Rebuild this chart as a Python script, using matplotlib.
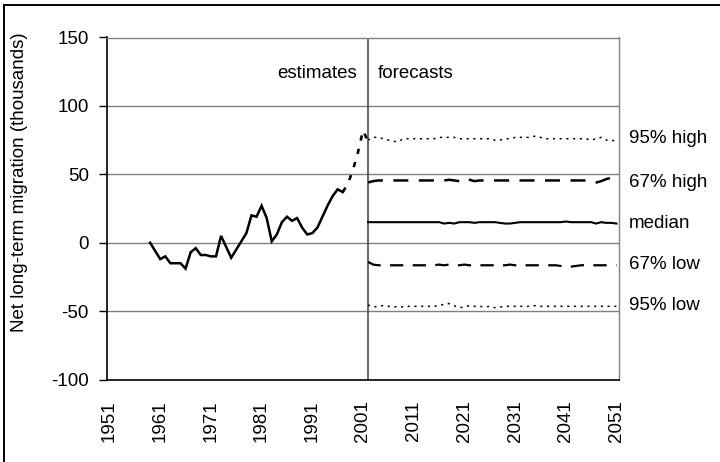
import matplotlib
matplotlib.use("Agg")
import matplotlib.pyplot as plt
from matplotlib.lines import Line2D
import matplotlib.transforms as mtransforms

plt.rcParams['font.family'] = ['Liberation Sans', 'DejaVu Sans']

# ---------------- data ----------------
est_years = list(range(1959, 1998))
est_values = [0, -6, -12, -10, -15, -15, -15, -19, -7, -4, -9, -9, -10, -10,
              5, -3, -11, -5, 1, 7, 20, 19, 27, 18, 1, 6, 15, 19, 16, 18,
              11, 6, 7, 11, 19, 27, 34, 39, 37]

prov_years = [1997, 1998, 1999, 2000, 2001, 2002]
prov_values = [37, 43, 53, 66, 82, 74]

fc_years = list(range(2002, 2052))
hi95 = [75, 77, 77, 76, 75, 74, 74, 76, 76, 76, 76, 76, 76, 76, 77, 77, 77, 77,
        76, 76, 76, 76, 76, 76, 76, 75, 75, 76, 76, 77, 77, 77, 77, 78, 77, 76,
        76, 76, 76, 76, 76, 76, 76, 76, 75, 76, 77, 75, 75, 74]
hi67 = [44, 45, 45.5, 45.5, 45.5, 45.5, 45.5, 45.5, 45.5, 45.5, 45.5, 45.5,
        45.5, 45.5, 45.5, 45.5, 46, 45.5, 45, 47, 46, 45, 45.5, 45.5, 45.5,
        45.5, 45.5, 45.5, 45.5, 46, 45.5, 45.5, 45.5, 45.5, 45.5, 45.5, 45.5,
        45.5, 45.5, 45.5, 45.5, 45.5, 45.5, 45.5, 44, 44, 45, 46.5, 47.5, 48]
median = [15, 15, 15, 15, 15, 15, 15, 15, 15, 15, 15, 15, 15, 15, 15, 14, 14.5,
          14, 15, 15, 15, 14.5, 15, 15, 15, 15, 14.5, 14, 14, 14.5, 15, 15, 15,
          15, 15, 15, 15, 15, 15, 15.5, 15, 15, 15, 15, 15, 14, 15, 14.5, 14.5, 14]
lo67 = [-14, -16, -16.5, -16.5, -16.5, -16.5, -16.5, -16.5, -16.5, -16.5,
        -16.5, -16.5, -16.5, -16.5, -16, -16.5, -16, -16.5, -16.5, -16, -16.5,
        -16.5, -16.5, -16.5, -16.5, -16.5, -16.5, -16.5, -16, -16.5, -16, -16.5,
        -16.5, -16.5, -16.5, -16.5, -16.5, -16.5, -17, -17.5, -17.5, -17,
        -16.5, -16.5, -16.5, -16.5, -16.5, -16.5, -16.5, -16.5]
lo95 = [-45.5, -47, -46.5, -46, -46.5, -47, -46.5, -47, -46.5, -46.5, -46.5,
        -46.5, -46.5, -46.5, -46, -45, -44.5, -46, -47.5, -47, -46, -46.5,
        -46.5, -47, -46.5, -47.5, -47, -46.5, -46.5, -46.5, -46.5, -46.5, -46.5,
        -46, -46.5, -46.5, -46.5, -46.5, -46.5, -46.5, -46.5, -46.5, -46.5,
        -46.5, -46.5, -46.5, -46.5, -46.5, -46.5, -46.5]

band_labels = ["95% high", "67% high", "median", "67% low", "95% low"]
band_label_y = [76, 44, 14, -16, -46]

xtick_years = list(range(1951, 2052, 10))
yticks = [-100, -50, 0, 50, 100, 150]
split_year = 2002

FS = 13.5

# ---------------- figure ----------------
fig = plt.figure(figsize=(7.2, 4.62), dpi=100)
ax = fig.add_axes([107/720, 1 - 379.5/462, 512/720, 342/462])

ax.set_xlim(1950.5, 2051.5)
ax.set_ylim(-100, 150)

for y in yticks[1:-1]:
    ax.axhline(y, color='#808080', lw=1.0, zorder=1)

ax.axvline(split_year, color='#404040', lw=1.1, zorder=2)

ax.plot(est_years, est_values, color='black', lw=1.8, zorder=3,
        solid_joinstyle='miter')
ax.plot(prov_years, prov_values, color='black', lw=1.9, zorder=3,
        linestyle=(0, (2, 3.2)))

ax.plot(fc_years, hi95, color='black', lw=1.1, linestyle=(0, (1.4, 3.0)), zorder=3)
ax.plot(fc_years, lo95, color='black', lw=1.1, linestyle=(0, (1.4, 3.0)), zorder=3)
ax.plot(fc_years, hi67, color='black', lw=1.8, linestyle=(0, (6.0, 4.2)), zorder=3)
ax.plot(fc_years, lo67, color='black', lw=1.6, linestyle=(0, (6.0, 4.2)), zorder=3)
ax.plot(fc_years, median, color='black', lw=1.5, zorder=3)

trans = mtransforms.blended_transform_factory(ax.transAxes, ax.transData)
for lab, yv in zip(band_labels, band_label_y):
    ax.text(1.02, yv, lab, transform=trans, ha='left', va='center', fontsize=FS)

ax.text(1999.8, 124, "estimates", ha='right', va='center', fontsize=FS)
ax.text(2004, 124, "forecasts", ha='left', va='center', fontsize=FS)

ax.set_xticks(xtick_years)
ax.set_xticklabels([str(y) for y in xtick_years], rotation=90, fontsize=FS)
ax.tick_params(axis='x', length=0, pad=15)
ax.set_yticks(yticks)
ax.set_yticklabels([str(v) for v in yticks], fontsize=FS)
ax.tick_params(axis='y', length=6, width=1, direction='out', pad=7)

fig.text(20/720, 1 - 182/462, "Net long-term migration (thousands)",
         rotation=90, ha='center', va='center', fontsize=FS)

for s in ['left', 'bottom']:
    ax.spines[s].set_color('black')
    ax.spines[s].set_linewidth(1.2)
for s in ['top', 'right']:
    ax.spines[s].set_color('#808080')
    ax.spines[s].set_linewidth(1.0)

# outer figure border (top and left visible)
fig.add_artist(Line2D([4/720, 4/720], [0, 1 - 5/462], transform=fig.transFigure,
                      color='black', lw=1.4))
fig.add_artist(Line2D([4/720, 1], [1 - 5/462, 1 - 5/462], transform=fig.transFigure,
                      color='black', lw=1.4))

fig.savefig("out.png", dpi=100)
